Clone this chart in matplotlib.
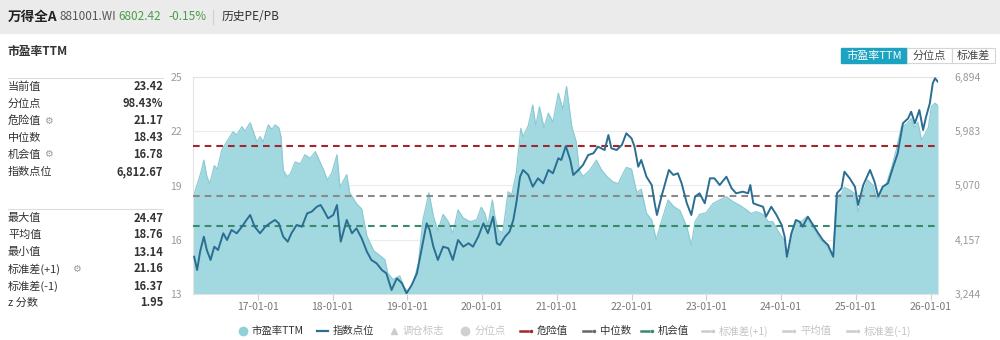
from datetime import datetime, timedelta

import matplotlib
matplotlib.use("Agg")
import matplotlib.pyplot as plt
import matplotlib.dates as mdates
from matplotlib.lines import Line2D
from matplotlib.patches import Rectangle

plt.rcParams['font.family'] = ['Noto Sans CJK SC', 'DejaVu Sans']

# PE (TTM) of the Wind All-A index, time in decimal years
pe_t = [2016.14, 2016.21, 2016.25, 2016.28, 2016.32, 2016.36, 2016.42, 2016.46, 2016.52, 2016.56,
        2016.63, 2016.67, 2016.72, 2016.79, 2016.83, 2016.90, 2016.94, 2016.99, 2017.03, 2017.07,
        2017.14, 2017.19, 2017.23, 2017.28, 2017.31, 2017.34, 2017.39, 2017.43, 2017.50, 2017.57,
        2017.63, 2017.70, 2017.77, 2017.81, 2017.88, 2017.93, 2017.99, 2018.06, 2018.10, 2018.19,
        2018.23, 2018.32, 2018.39, 2018.46, 2018.55, 2018.64, 2018.70, 2018.74, 2018.81, 2018.90,
        2018.95, 2019.01, 2019.08, 2019.15, 2019.21, 2019.26, 2019.29, 2019.35, 2019.41, 2019.48,
        2019.55, 2019.61, 2019.68, 2019.75, 2019.84, 2019.93, 2019.99, 2020.04, 2020.08, 2020.14,
        2020.17, 2020.22, 2020.28, 2020.35, 2020.40, 2020.46, 2020.52, 2020.55, 2020.62, 2020.68,
        2020.72, 2020.77, 2020.83, 2020.89, 2020.95, 2021.02, 2021.08, 2021.13, 2021.20, 2021.26,
        2021.30, 2021.35, 2021.44, 2021.53, 2021.60, 2021.67, 2021.75, 2021.82, 2021.89, 2021.93,
        2022.00, 2022.07, 2022.13, 2022.20, 2022.27, 2022.33, 2022.40, 2022.49, 2022.56, 2022.65,
        2022.74, 2022.80, 2022.85, 2022.91, 2023.00, 2023.09, 2023.18, 2023.27, 2023.36, 2023.45,
        2023.54, 2023.60, 2023.67, 2023.76, 2023.83, 2023.89, 2023.98, 2024.05, 2024.08, 2024.14,
        2024.21, 2024.27, 2024.34, 2024.43, 2024.52, 2024.61, 2024.67, 2024.70, 2024.74, 2024.81,
        2024.85, 2024.92, 2024.99, 2025.03, 2025.10, 2025.16, 2025.23, 2025.28, 2025.34, 2025.41,
        2025.48, 2025.54, 2025.61, 2025.68, 2025.74, 2025.79, 2025.83, 2025.88, 2025.92, 2025.97,
        2026.01, 2026.06, 2026.10]
pe_val = [18.4, 19.3, 19.85, 20.4, 19.5, 19.1, 20.1, 19.9, 20.96, 21.24,
          21.7, 21.97, 21.8, 22.25, 22.0, 22.47, 22.0, 21.4, 21.7, 21.4,
          22.35, 22.1, 22.35, 22.2, 21.7, 19.85, 19.5, 19.6, 20.3, 20.2,
          20.7, 20.5, 20.87, 20.5, 19.85, 19.3, 19.7, 20.7, 18.9, 19.6,
          18.6, 18.0, 17.7, 16.2, 15.4, 15.1, 14.9, 14.15, 13.8, 14.0,
          13.4, 13.14, 13.6, 14.7, 17.1, 18.0, 18.6, 17.3, 16.5, 17.4,
          17.0, 16.35, 17.65, 17.2, 17.0, 17.1, 17.8, 17.45, 16.8, 18.2,
          17.35, 16.5, 16.4, 18.65, 18.5, 19.7, 22.16, 21.7, 22.3, 23.45,
          22.3, 23.35, 22.2, 23.0, 22.5, 24.1, 23.2, 24.47, 22.25, 21.4,
          19.85, 19.5, 19.85, 20.4, 19.85, 19.5, 19.2, 19.1, 19.7, 20.0,
          19.9, 18.6, 18.8, 17.46, 17.1, 16.0, 17.0, 18.2, 17.85, 17.6,
          16.7, 15.7, 17.0, 17.4, 17.5, 18.0, 18.2, 18.38, 18.1, 17.9,
          17.65, 17.45, 17.55, 17.4, 17.0, 17.0, 16.35, 15.95, 14.9, 16.2,
          17.0, 17.0, 17.25, 16.7, 16.05, 15.7, 15.25, 15.0, 18.38, 18.55,
          18.9, 18.75, 18.55, 17.55, 18.65, 19.3, 19.0, 18.2, 18.8, 19.1,
          20.0, 20.96, 22.25, 22.4, 22.7, 22.2, 22.5, 21.5, 21.8, 22.2,
          23.36, 23.55, 23.42]

# index level (881001.WI)
idx_t = [2016.15, 2016.19, 2016.23, 2016.28, 2016.32, 2016.37, 2016.42, 2016.47, 2016.54, 2016.59,
         2016.65, 2016.72, 2016.79, 2016.85, 2016.90, 2016.96, 2017.03, 2017.10, 2017.16, 2017.23,
         2017.28, 2017.34, 2017.40, 2017.45, 2017.52, 2017.59, 2017.66, 2017.72, 2017.79, 2017.84,
         2017.88, 2017.94, 2018.01, 2018.06, 2018.11, 2018.19, 2018.26, 2018.32, 2018.39, 2018.46,
         2018.52, 2018.59, 2018.66, 2018.72, 2018.79, 2018.86, 2018.93, 2018.99, 2019.06, 2019.13,
         2019.19, 2019.26, 2019.30, 2019.35, 2019.41, 2019.48, 2019.55, 2019.61, 2019.68, 2019.75,
         2019.82, 2019.88, 2019.95, 2020.02, 2020.08, 2020.15, 2020.20, 2020.24, 2020.31, 2020.37,
         2020.42, 2020.46, 2020.51, 2020.55, 2020.62, 2020.68, 2020.75, 2020.82, 2020.89, 2020.95,
         2021.02, 2021.06, 2021.12, 2021.18, 2021.22, 2021.29, 2021.35, 2021.42, 2021.49, 2021.55,
         2021.64, 2021.69, 2021.73, 2021.80, 2021.87, 2021.93, 2022.00, 2022.04, 2022.09, 2022.13,
         2022.20, 2022.27, 2022.31, 2022.34, 2022.40, 2022.45, 2022.50, 2022.56, 2022.62, 2022.67,
         2022.74, 2022.80, 2022.85, 2022.91, 2022.98, 2023.05, 2023.11, 2023.18, 2023.27, 2023.34,
         2023.40, 2023.49, 2023.56, 2023.59, 2023.63, 2023.69, 2023.76, 2023.80, 2023.87, 2023.94,
         2024.01, 2024.05, 2024.08, 2024.14, 2024.20, 2024.25, 2024.29, 2024.36, 2024.43, 2024.50,
         2024.56, 2024.63, 2024.67, 2024.70, 2024.75, 2024.81, 2024.85, 2024.92, 2024.99, 2025.03,
         2025.10, 2025.19, 2025.25, 2025.30, 2025.36, 2025.43, 2025.50, 2025.56, 2025.63, 2025.70,
         2025.74, 2025.79, 2025.85, 2025.90, 2025.94, 2025.99, 2026.03, 2026.06, 2026.10]
idx_val = [3871, 3648, 3956, 4208, 3984, 3816, 4040, 3984, 4265, 4152,
           4321, 4265, 4376, 4489, 4573, 4376, 4265, 4376, 4433, 4489,
           4433, 4208, 4124, 4265, 4405, 4376, 4601, 4628, 4712, 4741,
           4657, 4517, 4573, 4741, 4124, 4489, 4265, 4349, 4181, 3956,
           3816, 3760, 3648, 3592, 3311, 3508, 3424, 3256, 3395, 3592,
           3984, 4433, 4321, 4040, 3816, 4040, 4013, 3816, 4152, 4040,
           4097, 4040, 4208, 4433, 4265, 4544, 4097, 4068, 4208, 4292,
           4489, 4770, 5217, 5330, 5246, 5049, 5190, 5106, 5330, 5274,
           5527, 5498, 5733, 5498, 5246, 5330, 5414, 5582, 5611, 5722,
           5666, 5918, 5695, 5666, 5750, 5947, 5863, 5722, 5385, 5498,
           5217, 5077, 4770, 4573, 4881, 5106, 5330, 5246, 5274, 5106,
           4770, 4573, 4881, 4938, 4770, 5190, 5190, 5077, 5217, 5022,
           4938, 4965, 4938, 5077, 4770, 4741, 4712, 4545, 4712, 4573,
           4405, 4208, 3871, 4265, 4489, 4460, 4376, 4545, 4405, 4265,
           4152, 4068, 3956, 3871, 4938, 5022, 5301, 5190, 5049, 4741,
           5077, 5330, 5133, 4881, 5049, 5106, 5385, 5611, 6115, 6199,
           6310, 6115, 6339, 6003, 6226, 6452, 6788, 6872, 6812.67]

danger, median, chance = 21.17, 18.43, 16.78
pe_ticks = [13, 16, 19, 22, 25]
idx_ticks = [3244, 4157, 5070, 5983, 6894]
years = list(range(2017, 2027))

stat_top = [("当前值", "23.42"), ("分位点", "98.43%"), ("危险值", "21.17"),
            ("中位数", "18.43"), ("机会值", "16.78"), ("指数点位", "6,812.67")]
stat_bottom = [("最大值", "24.47"), ("平均值", "18.76"), ("最小值", "13.14"),
               ("标准差(+1)", "21.16"), ("标准差(-1)", "16.37"), ("z 分数", "1.95")]
gear_rows = {"危险值", "机会值", "标准差(+1)"}


def to_date(t):
    y = int(t)
    return datetime(y, 1, 1) + timedelta(days=(t - y) * 365.25)


pe_d = [to_date(t) for t in pe_t]
idx_d = [to_date(t) for t in idx_t]

W, H = 1000, 340
fig = plt.figure(figsize=(W / 100, H / 100), dpi=100)


def fx(x):
    return x / W


def fy(y):
    return 1 - y / H


# header bar
fig.add_artist(Rectangle((0, fy(33)), 1, 33 / H, transform=fig.transFigure,
                         color="#ebebeb", zorder=0))
fig.text(fx(8), fy(17), "万得全A", fontsize=9.8, fontweight="bold", color="#222", va="center")
fig.text(fx(59), fy(17), "881001.WI", fontsize=8.5, color="#555", va="center")
fig.text(fx(118), fy(17), "6802.42", fontsize=8.5, color="#4a9d4a", va="center")
fig.text(fx(168), fy(17), "-0.15%", fontsize=8.5, color="#4a9d4a", va="center")
fig.add_artist(Line2D([fx(213), fx(213)], [fy(10), fy(24)], color="#d0d0d0", lw=0.8))
fig.text(fx(222), fy(17), "历史PE/PB", fontsize=8.5, color="#333", va="center")

fig.text(fx(8), fy(52), "市盈率TTM", fontsize=8.5, fontweight="bold", color="#333", va="center")

# switch buttons
fig.add_artist(Rectangle((fx(841), fy(63)), 66 / W, 15 / H, transform=fig.transFigure,
                         color="#1ba3c1", zorder=1))
fig.text(fx(874), fy(55.5), "市盈率TTM", fontsize=8, color="white", ha="center", va="center")
for x0, x1, lab in [(907, 952, "分位点"), (952, 995, "标准差")]:
    fig.add_artist(Rectangle((fx(x0), fy(63)), (x1 - x0) / W, 15 / H, transform=fig.transFigure,
                             facecolor="white", edgecolor="#d5d5d5", lw=0.8))
    fig.text(fx((x0 + x1) / 2), fy(55.5), lab, fontsize=8, color="#444", ha="center", va="center")

# stats panel
fig.add_artist(Line2D([fx(8), fx(163)], [fy(78), fy(78)], color="#dddddd", lw=0.8))
fig.add_artist(Line2D([fx(8), fx(163)], [fy(209), fy(209)], color="#dddddd", lw=0.8))
for rows, y0 in [(stat_top, 86.5), (stat_bottom, 218)]:
    for i, (lab, val) in enumerate(rows):
        y = y0 + i * 17
        fig.text(fx(8), fy(y), lab, fontsize=8, color="#333", va="center")
        fig.text(fx(163), fy(y), val, fontsize=8, fontweight="bold", color="#333",
                 ha="right", va="center")
        if lab in gear_rows:
            gx = 8 + len(lab) * 10.5 + 5 if lab != "标准差(+1)" else 72
            fig.text(fx(gx), fy(y), "⚙", fontsize=7, color="#999", va="center",
                     family=['DejaVu Sans'])

# main chart
ax = fig.add_axes([fx(193), fy(294), (938 - 193) / W, (294 - 77) / H])
ax.fill_between(pe_d, pe_val, 13, color="#a2d9e1", lw=0, zorder=1)
ax.plot(pe_d, pe_val, color="#8ccbd5", lw=0.9, zorder=2)
for lvl in pe_ticks[1:-1]:
    ax.axhline(lvl, color="#ececec", lw=0.8, zorder=0)
ax.axhline(danger, color="#a3262d", lw=1.5, ls=(0, (3.2, 2.4)), zorder=4)
ax.axhline(median, color="#8a8a8a", lw=1.5, ls=(0, (3.2, 2.4)), zorder=4)
ax.axhline(chance, color="#3a8a6c", lw=1.5, ls=(0, (3.2, 2.4)), zorder=4)
ax.set_ylim(13, 25)
ax.set_xlim(to_date(2016.135), to_date(2026.10))
ax.set_yticks(pe_ticks)
ax.set_xticks([datetime(y, 1, 1) for y in years])
ax.xaxis.set_major_formatter(mdates.DateFormatter("%y-%m-%d"))
ax.tick_params(axis="x", length=4, color="#cccccc", labelsize=7.5, labelcolor="#777", pad=2)
ax.tick_params(axis="y", length=0, labelsize=7.5, labelcolor="#999", pad=8)
for side in ["top", "left", "right", "bottom"]:
    ax.spines[side].set_color("#e3e3e3")
    ax.spines[side].set_linewidth(0.8)
ax.spines["right"].set_visible(False)

ax2 = ax.twinx()
ax2.plot(idx_d, idx_val, color="#2a6e92", lw=1.4, zorder=5)
ax2.set_ylim(idx_ticks[0], idx_ticks[-1])
ax2.set_yticks(idx_ticks)
ax2.set_yticklabels([f"{v:,}" for v in idx_ticks])
ax2.tick_params(axis="y", length=0, labelsize=7.5, labelcolor="#999", pad=12)
for side in ["top", "left", "right", "bottom"]:
    ax2.spines[side].set_visible(False)

# legend row
ly = fy(331)
fig.add_artist(Line2D([fx(243)], [ly], marker="o", ms=6, color="#8fd0da", lw=0))
fig.text(fx(251), ly, "市盈率TTM", fontsize=7.5, color="#333", va="center")
fig.add_artist(Line2D([fx(317), fx(328)], [ly, ly], color="#2a6e92", lw=1.6))
fig.text(fx(333), ly, "指数点位", fontsize=7.5, color="#333", va="center")
fig.add_artist(Line2D([fx(394)], [ly], marker="^", ms=5, color="#cccccc", lw=0))
fig.text(fx(403), ly, "调仓标志", fontsize=7.5, color="#c4c4c4", va="center")
fig.add_artist(Line2D([fx(465)], [ly], marker="o", ms=6, color="#d0d0d0", lw=0))
fig.text(fx(475), ly, "分位点", fontsize=7.5, color="#c4c4c4", va="center")

dash_items = [(520, "危险值", "#a3262d", "#333"), (583, "中位数", "#666666", "#333"),
              (641, "机会值", "#3a8a6c", "#333"), (702, "标准差(+1)", "#cccccc", "#c4c4c4"),
              (783, "平均值", "#cccccc", "#c4c4c4"), (847, "标准差(-1)", "#cccccc", "#c4c4c4")]
for x0, lab, c, tc in dash_items:
    fig.add_artist(Line2D([fx(x0), fx(x0 + 8)], [ly, ly], color=c, lw=1.8))
    fig.add_artist(Line2D([fx(x0 + 11)], [ly], marker="o", ms=1.5, color=c, lw=0))
    fig.text(fx(x0 + 17), ly, lab, fontsize=7.5, color=tc, va="center")

fig.savefig("out.png", dpi=100)
